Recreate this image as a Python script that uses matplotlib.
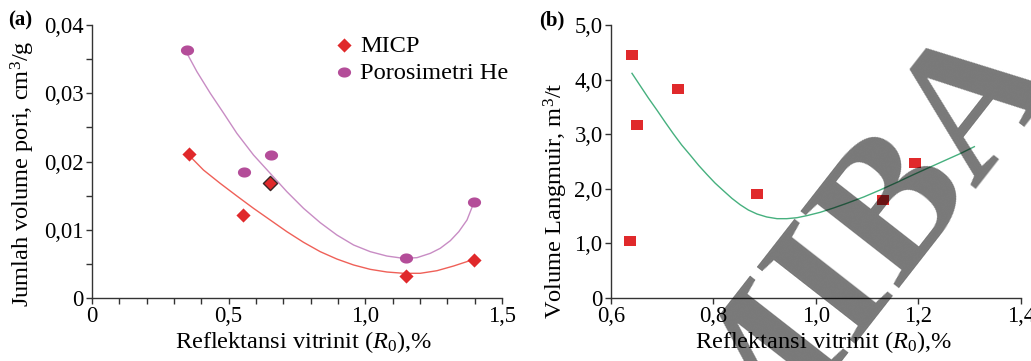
import numpy as np
import matplotlib
matplotlib.use("Agg")
import matplotlib.pyplot as plt
from matplotlib.path import Path

plt.rcParams['font.family'] = ['Liberation Serif', 'DejaVu Serif']
plt.rcParams['mathtext.fontset'] = 'custom'
plt.rcParams['mathtext.rm'] = 'Liberation Serif'
plt.rcParams['mathtext.it'] = 'Liberation Serif:italic'

# (a) total pore volume vs vitrinite reflectance
micp_ro = [0.355, 0.554, 0.652, 1.148, 1.396]
micp_vol = [0.0211, 0.0121, 0.0169, 0.0032, 0.0055]
he_ro = [0.349, 0.556, 0.655, 1.148, 1.396]
he_vol = [0.0363, 0.0184, 0.0209, 0.0058, 0.0140]

# trend lines as printed in the figure
micp_fit_ro = [0.354, 0.408, 0.469, 0.530, 0.591, 0.652, 0.713, 0.774, 0.835,
               0.896, 0.957, 1.018, 1.079, 1.140, 1.201, 1.262, 1.323, 1.390]
micp_fit_vol = [0.02095, 0.01875, 0.01680, 0.01495, 0.01314, 0.01143, 0.00972,
                0.00816, 0.00679, 0.00571, 0.00484, 0.00420, 0.00381, 0.00362,
                0.00362, 0.00400, 0.00469, 0.00557]
he_fit_ro = [0.341, 0.384, 0.433, 0.482, 0.530, 0.591, 0.652, 0.713, 0.774,
             0.835, 0.896, 0.957, 1.018, 1.079, 1.140, 1.189, 1.238, 1.274,
             1.311, 1.342, 1.372, 1.396]
he_fit_vol = [0.03634, 0.03316, 0.02999, 0.02706, 0.02413, 0.02095, 0.01827,
              0.01558, 0.01314, 0.01104, 0.00923, 0.00777, 0.00679, 0.00615,
              0.00581, 0.00591, 0.00655, 0.00728, 0.00840, 0.00972, 0.01143,
              0.01387]

# (b) Langmuir volume vs vitrinite reflectance
lang_ro = [0.638, 0.642, 0.651, 0.730, 0.884, 1.130, 1.194]
lang_vol = [1.04, 4.46, 3.16, 3.83, 1.91, 1.80, 2.48]
lang_fit_ro = [0.641, 0.657, 0.673, 0.690, 0.706, 0.722, 0.738, 0.755, 0.771,
               0.787, 0.803, 0.820, 0.836, 0.852, 0.868, 0.885, 0.904, 0.924,
               0.943, 0.963, 0.982, 1.008, 1.034, 1.060, 1.093, 1.125, 1.158,
               1.190, 1.223, 1.255, 1.281, 1.309]
lang_fit_vol = [4.115, 3.889, 3.663, 3.437, 3.217, 3.004, 2.802, 2.613, 2.430,
                2.265, 2.106, 1.960, 1.825, 1.709, 1.612, 1.538, 1.484, 1.453,
                1.453, 1.471, 1.508, 1.569, 1.648, 1.734, 1.850, 1.978, 2.118,
                2.259, 2.399, 2.534, 2.643, 2.772]

xticks_a = [0, 0.5, 1.0, 1.5]
xlabels_a = ['0', '0,5', '1,0', '1,5']
yticks_a = [0, 0.01, 0.02, 0.03, 0.04]
ylabels_a = ['0', '0,01', '0,02', '0,03', '0,04']
xticks_b = [0.6, 0.8, 1.0, 1.2, 1.4]
xlabels_b = ['0,6', '0,8', '1,0', '1,2', '1,4']
yticks_b = [0, 1, 2, 3, 4, 5]
ylabels_b = ['0', '1,0', '2,0', '3,0', '4,0', '5,0']

RED = '#e0292b'
PURPLE = '#b44d99'
FS = 16.3
LFS = 17.6

# slightly flattened markers
t = np.linspace(0, 2 * np.pi, 40)
ellipse = Path(np.column_stack([np.cos(t), 0.77 * np.sin(t)]))
rect = Path([(-1, -0.8), (1, -0.8), (1, 0.8), (-1, 0.8), (-1, -0.8)])


def style_axes(ax):
    for s in ['top', 'right']:
        ax.spines[s].set_visible(False)
    for s in ['left', 'bottom']:
        ax.spines[s].set_color('#333333')
        ax.spines[s].set_linewidth(1.0)
    ax.tick_params(which='both', direction='out', length=4, width=1.0,
                   color='#333333', labelsize=FS, pad=2)


fig = plt.figure(figsize=(10.31, 3.61), dpi=100)
ax1 = fig.add_axes([0.0892, 0.1745, 0.3977, 0.7562])
ax2 = fig.add_axes([0.5926, 0.1745, 0.3977, 0.7562])

# panel a
ax1.plot(he_fit_ro, he_fit_vol, color='#c88cc4', lw=1.0, zorder=2,
         solid_joinstyle='round')
ax1.plot(micp_fit_ro, micp_fit_vol, color='#ef6058', lw=1.0, zorder=2,
         solid_joinstyle='round')
ax1.scatter(he_ro, he_vol, marker=ellipse, s=90, color=PURPLE, lw=0, zorder=3,
            label='Porosimetri He')
ax1.scatter(micp_ro, micp_vol, marker='D', s=52, color=RED, lw=0, zorder=4,
            label='MICP')
# overlapping sample drawn with a dark outline
ax1.scatter([micp_ro[2]], [micp_vol[2]], marker='D', s=52, color=RED,
            edgecolor='#3a2626', lw=1.0, zorder=5)
ax1.set_xlim(0, 1.5)
ax1.set_ylim(0, 0.04)
ax1.set_xticks(xticks_a)
ax1.set_xticklabels(xlabels_a)
ax1.set_yticks(yticks_a)
ax1.set_yticklabels(ylabels_a)
ax1.set_xticks(np.arange(0, 1.5, 0.1), minor=True)
ax1.set_yticks(np.arange(0, 0.04, 0.005), minor=True)
style_axes(ax1)
ax1.set_xlabel(r'Reflektansi vitrinit ($\mathit{R}_0$),%', fontsize=LFS)
ax1.xaxis.set_label_coords(0.517, -0.112)
ax1.set_ylabel(r'Jumlah volume pori, cm$^3$/g', fontsize=LFS)
ax1.yaxis.set_label_coords(-0.133, 0.454)
h, l = ax1.get_legend_handles_labels()
ax1.legend(h[::-1], l[::-1], loc='upper left', bbox_to_anchor=(0.555, 1.0),
           frameon=False, fontsize=LFS, handletextpad=0.05, labelspacing=0.2,
           borderaxespad=0, handlelength=1.2)

# panel b
ax2.plot(lang_fit_ro, lang_fit_vol, color='#46b07e', lw=1.0, zorder=2,
         solid_joinstyle='round')
ax2.scatter(lang_ro, lang_vol, marker=rect, s=85, color=RED, lw=0, zorder=3)
ax2.set_xlim(0.6, 1.4)
ax2.set_ylim(0, 5)
ax2.set_xticks(xticks_b)
ax2.set_xticklabels(xlabels_b)
ax2.set_yticks(yticks_b)
ax2.set_yticklabels(ylabels_b)
style_axes(ax2)
ax2.set_xlabel(r'Reflektansi vitrinit ($\mathit{R}_0$),%', fontsize=LFS)
ax2.xaxis.set_label_coords(0.518, -0.112)
ax2.set_ylabel(r'Volume Langmuir, m$^3$/t', fontsize=LFS)
ax2.yaxis.set_label_coords(-0.099, 0.355)

fig.text(0.008, 0.942, '(a)', fontsize=15, fontweight='bold', va='center')
fig.text(0.523, 0.942, '(b)', fontsize=15, fontweight='bold', va='center')

# publisher stamp across panel b
fig.text(0.873, 0.215, 'MIBA', fontsize=137, fontweight='bold', color='black',
         alpha=0.53, rotation=52, rotation_mode='anchor', ha='center',
         va='baseline', zorder=10)

fig.savefig('out.png', dpi=100)
